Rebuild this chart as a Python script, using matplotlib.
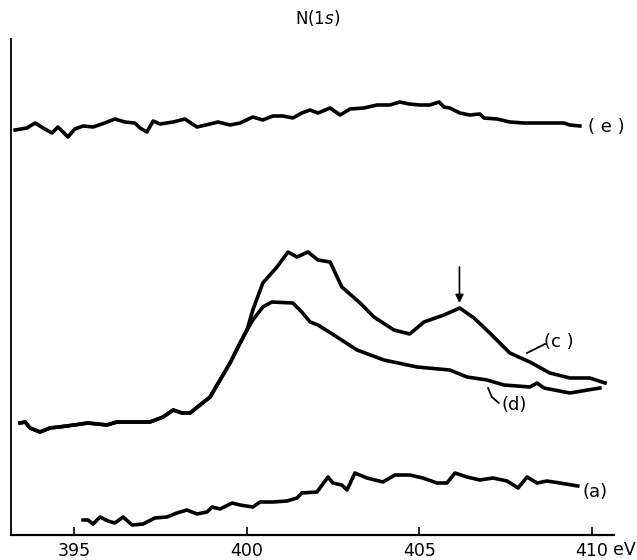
#!/usr/bin/env python3
"""N(1s) XPS spectra, curves (a), (c), (d), (e)."""

import matplotlib
import numpy as np

matplotlib.use("Agg")
import matplotlib.pyplot as plt

# binding energy (eV) / intensity (arb. units)
e_ev = [393.28, 393.62, 393.86, 394.09, 394.35, 394.52, 394.67, 394.81, 395.01, 395.25,
        395.54, 395.88, 396.17, 396.46, 396.75, 396.90, 397.10, 397.28, 397.48, 397.86,
        398.20, 398.55, 398.93, 399.16, 399.51, 399.80, 400.17, 400.46, 400.75, 401.04,
        401.33, 401.59, 401.83, 402.06, 402.41, 402.70, 402.99, 403.39, 403.77, 404.14,
        404.43, 404.70, 405.01, 405.30, 405.57, 405.71, 405.88, 406.17, 406.46, 406.75,
        406.87, 407.25, 407.62, 408.03, 408.41, 408.78, 409.19, 409.36, 409.65]
e_int = [405, 407, 412, 407, 402, 408, 403, 398, 406, 409,
         408, 412, 416, 413, 412, 407, 403, 414, 411, 413,
         416, 408, 411, 413, 410, 412, 418, 415, 419, 419,
         417, 422, 425, 422, 427, 420, 426, 427, 430, 430,
         433, 431, 430, 430, 433, 428, 427, 422, 420, 421,
         417, 416, 413, 412, 412, 412, 412, 410, 409]

# (c) and (d) share the low-energy side up to ~400 eV
cd_ev = [393.42, 393.57, 393.71, 394.00, 394.29, 394.78, 395.39, 395.94, 396.23, 396.70,
         397.19, 397.57, 397.86, 398.12, 398.35, 398.64, 398.93, 399.22, 399.51, 399.80,
         400.00]
cd_int = [112, 113, 107, 103, 107, 109, 112, 110, 113, 113,
          113, 118, 125, 122, 122, 130, 138, 155, 172, 192,
          205]

c_ev = [400.17, 400.46, 400.87, 401.19, 401.45, 401.77, 402.06, 402.41, 402.75, 403.28,
        403.68, 404.26, 404.72, 405.13, 405.71, 406.17, 406.58, 407.04, 407.62, 408.20,
        408.78, 409.36, 409.94, 410.38]
c_int = [225, 252, 268, 283, 278, 283, 275, 273, 248, 232,
         218, 205, 201, 213, 220, 227, 217, 202, 182, 173,
         162, 157, 157, 152]

d_ev = [400.17, 400.46, 400.72, 401.33, 401.59, 401.83, 402.06, 402.61, 403.19, 403.97,
        404.93, 405.88, 406.38, 406.96, 407.45, 408.20, 408.41, 408.61, 409.36, 410.23]
d_int = [215, 228, 233, 232, 223, 213, 210, 198, 185, 175,
         168, 165, 158, 155, 150, 148, 152, 147, 142, 147]

a_ev = [395.25, 395.39, 395.54, 395.74, 395.97, 396.17, 396.41, 396.67, 396.99, 397.33,
        397.68, 397.97, 398.26, 398.55, 398.84, 398.99, 399.22, 399.57, 399.80, 400.17,
        400.38, 400.75, 401.16, 401.45, 401.59, 402.03, 402.35, 402.49, 402.75, 402.90,
        403.13, 403.48, 403.94, 404.29, 404.72, 405.10, 405.51, 405.80, 406.03, 406.38,
        406.75, 407.13, 407.54, 407.86, 408.12, 408.41, 408.70, 409.07, 409.59]
a_int = [15, 15, 11, 18, 14, 12, 18, 10, 11, 17,
         18, 22, 25, 21, 23, 28, 26, 32, 30, 28,
         33, 33, 34, 37, 42, 43, 58, 52, 50, 45,
         62, 57, 53, 60, 60, 57, 52, 52, 62, 58,
         55, 57, 54, 47, 58, 52, 54, 52, 49]

ticks = [395, 400, 405, 410]
arrow_ev = 406.16


def main() -> None:
    plt.rcParams["font.family"] = ["DejaVu Sans"]
    fig = plt.figure(figsize=(6.37, 5.6), dpi=100)
    ax = fig.add_axes([11 / 637, 25 / 560, 603 / 637, 496 / 560])

    kw = dict(color="black", lw=2.6, solid_joinstyle="round")
    ax.plot(e_ev, e_int, **kw)
    ax.plot(cd_ev + c_ev, cd_int + c_int, **kw)
    ax.plot(cd_ev + d_ev, cd_int + d_int, **kw)
    ax.plot(a_ev, a_int, **kw)

    ax.set_xlim(393.16, 410.64)
    ax.set_ylim(0, 496)
    for s in ("top", "right"):
        ax.spines[s].set_visible(False)
    ax.spines["left"].set_linewidth(1.3)
    ax.spines["bottom"].set_linewidth(1.6)
    ax.set_xticks(ticks)
    ax.set_xticklabels([str(t) for t in ticks])
    ax.tick_params(axis="x", direction="in", length=6, width=1.2, labelsize=12.5, pad=5)
    ax.set_yticks([])
    fig.text(624 / 637, 1 - 550 / 560, "eV", fontsize=12.5, ha="center", va="center")

    fs = 13
    ax.text(410.42, 408, "( e )", fontsize=fs, ha="center", va="center")
    ax.text(409.04, 193, "(c )", fontsize=fs, ha="center", va="center")
    ax.text(407.74, 130, "(d)", fontsize=fs, ha="center", va="center")
    ax.text(410.09, 43, "(a)", fontsize=fs, ha="center", va="center")
    ax.plot([408.12, 408.64], [182, 191], color="black", lw=1.3)
    ax.plot([406.99, 407.10, 407.30], [147, 138, 132], color="black", lw=1.3)

    ax.annotate("", xy=(arrow_ev, 232), xytext=(arrow_ev, 268),
                arrowprops=dict(arrowstyle="-|>", color="black", lw=1.2,
                                mutation_scale=12, shrinkA=0, shrinkB=0))

    fig.text(318 / 637, 1 - 18 / 560, "N(1$\\it{s}$)", fontsize=12, ha="center", va="center")

    fig.savefig("out.png", dpi=100, facecolor="white")
    plt.close(fig)


if __name__ == "__main__":
    main()
